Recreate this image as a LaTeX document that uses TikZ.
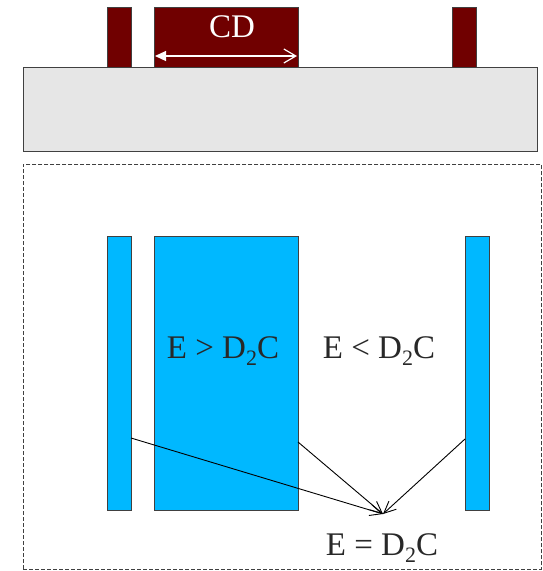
\documentclass[tikz,border=0pt]{standalone}
\usepackage{fontspec}
\setmainfont{Liberation Serif}
\usetikzlibrary{arrows.meta}
\definecolor{darkred}{RGB}{112,0,0}
\definecolor{cyanfill}{RGB}{0,184,255}
\definecolor{subgray}{RGB}{230,230,230}
\definecolor{edgegray}{RGB}{64,64,64}
\definecolor{txtgray}{RGB}{40,40,40}
\tikzset{
  blk/.style={draw=edgegray, line width=1.2pt, inner sep=0pt, anchor=north west},
  redblk/.style={blk, fill=darkred},
  cyanblk/.style={blk, fill=cyanfill},
  lbl/.style={anchor=base, inner sep=0pt, text=txtgray, font=\fontsize{33}{36}\selectfont},
  conn/.style={line width=0.9pt, black, -{Straight Barb[length=12pt,width=11pt]}},
}
\newcommand{\dtwoc}{D\raisebox{-0.22em}{\fontsize{22}{22}\selectfont 2}C}
\begin{document}
\begin{tikzpicture}[x=1pt,y=-1pt]
\useasboundingbox (0,0) rectangle (543,571);
% substrate
\node[blk, fill=subgray, minimum width=514pt, minimum height=84pt] (sub) at (23,67) {};
% top features
\node[redblk, minimum width=24pt, minimum height=60pt] (r1) at (107,7) {};
\node[redblk, minimum width=144pt, minimum height=60pt] (r2) at (154,7) {};
\node[redblk, minimum width=24pt, minimum height=60pt] (r3) at (452,7) {};
\node[lbl, text=white] (cd) at (232,37) {CD};
\coordinate (cdl) at (155,56);
\coordinate (cdr) at (297,56);
\draw[white, line width=1.2pt, {Triangle[length=11pt,width=10pt]}-{Straight Barb[length=12pt,width=14pt]}] (cdl) -- (cdr);
% dashed frame
\node[draw=edgegray, dash pattern=on 4pt off 2pt, line width=0.9pt, minimum width=518pt, minimum height=405pt, inner sep=0pt, anchor=north west] (frame) at (23,164) {};
% plan view blocks
\node[cyanblk, minimum width=24pt, minimum height=274pt] (c1) at (107,236) {};
\node[cyanblk, minimum width=144pt, minimum height=274pt] (c2) at (154,236) {};
\node[cyanblk, minimum width=24pt, minimum height=274pt] (c3) at (465,236) {};
% labels
\node[lbl] (gt) at (223,358) {E > \dtwoc};
\node[lbl] (lt) at (379,358) {E < \dtwoc};
\node[lbl] (eq) at (382,555) {E = \dtwoc};
% connectors
\coordinate (tip) at (383,514);
\coordinate (s1) at (131,438);
\coordinate (s2) at (298,442);
\coordinate (s3) at (465,439);
\draw[conn] (s1) -- (tip);
\draw[conn] (s2) -- (tip);
\draw[conn] (s3) -- (tip);
\end{tikzpicture}
\end{document}
